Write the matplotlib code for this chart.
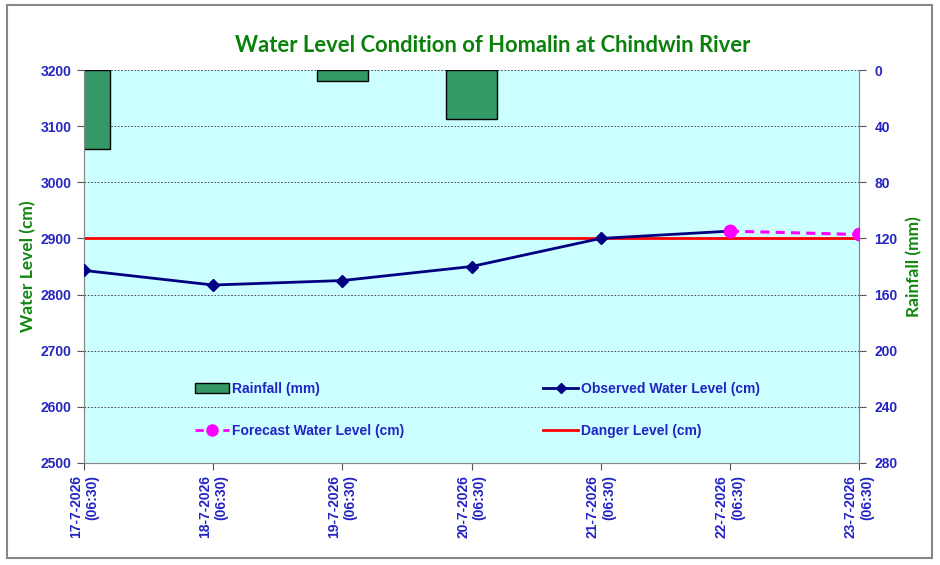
"""
Homalin (Chindwin River) water level chart
"""
import matplotlib
matplotlib.use('Agg')
import matplotlib.pyplot as plt
import numpy as np
from matplotlib.patches import Rectangle, Patch
from matplotlib.lines import Line2D

# data
dates = ['17-7-2026\n(06:30)', '18-7-2026\n(06:30)', '19-7-2026\n(06:30)',
         '20-7-2026\n(06:30)', '21-7-2026\n(06:30)', '22-7-2026\n(06:30)',
         '23-7-2026\n(06:30)']
rainfall = [56, 0, 8, 35, 0, 0, 0]                       # mm
observed = [2843, 2817, 2825, 2850, 2900, 2913, None]     # cm
forecast = [None, None, None, None, None, 2913, 2907]     # cm
danger_level = 2900                                       # cm

blue = '#2424C4'
green = '#118811'
tick_font = dict(family='Liberation Sans', weight='bold', size=10)

fig = plt.figure(figsize=(9.4, 5.65), dpi=100)
fig.patch.set_facecolor('white')
# chart area border
fig.patches.append(Rectangle((7 / 940, 1 - 558 / 565), 925 / 940, 553 / 565,
                             transform=fig.transFigure, fill=False,
                             edgecolor='#888888', linewidth=1.5))

rect = [84 / 940, 1 - 463 / 565, 775 / 940, 393 / 565]
ax2 = fig.add_axes(rect)           # rainfall (behind)
ax = ax2.twinx()                   # water level (on top)
ax.set_zorder(ax2.get_zorder() + 1)
ax.patch.set_visible(False)
ax2.set_facecolor('#CCFFFF')

x = np.arange(len(dates))

# rainfall bars hanging from the top
rain = np.array(rainfall, dtype=float)
mask = rain > 0
ax2.bar(x[mask], rain[mask], width=0.4, color='#339966', edgecolor='black',
        linewidth=1, zorder=3)
ax2.set_ylim(280, 0)
ax2.set_yticks(np.arange(0, 281, 40))
ax2.grid(axis='y', color='#333333', linestyle=(0, (2, 2)), linewidth=0.6, zorder=1)
ax2.set_axisbelow(True)

# water level lines
obs = np.array([np.nan if v is None else v for v in observed], dtype=float)
fc = np.array([np.nan if v is None else v for v in forecast], dtype=float)
ax.axhline(danger_level, color='#FF0000', linewidth=2, zorder=2)
ax.plot(x, obs, color='#000080', linewidth=2, marker='D', markersize=6, zorder=3)
ax.plot(x, fc, color='#FF00FF', linewidth=2.2, linestyle=(0, (3, 2)),
        marker='o', markersize=9, zorder=4)
ax.set_ylim(2500, 3200)
ax.set_yticks(np.arange(2500, 3201, 100))
ax.set_xlim(0, 6)

# water level ticks on the left, rainfall on the right
ax.yaxis.tick_left()
ax.yaxis.set_label_position('left')
ax2.yaxis.tick_right()
ax2.yaxis.set_label_position('right')

for a in (ax, ax2):
    for s in a.spines.values():
        s.set_color('#888888')
    a.spines['top'].set_visible(False)
    a.tick_params(axis='both', direction='out', length=5, color='#555555',
                  labelcolor=blue)
    for lab in a.get_yticklabels():
        lab.set_fontproperties(tick_font)

ax2.set_xticks(x)
ax2.set_xticklabels(dates, rotation=90, ha='center', va='top',
                    multialignment='right', color=blue, **tick_font)
ax.tick_params(axis='x', bottom=False, labelbottom=False)
ax.tick_params(axis='y', pad=4)
ax2.tick_params(axis='y', pad=6)

ax.set_ylabel('Water Level (cm)', color=green, fontsize=12.5, family='Lato',
              fontweight='bold', labelpad=3)
ax2.set_ylabel('Rainfall (mm)', color=green, fontsize=12.5, family='Lato',
               fontweight='bold', labelpad=6)
fig.text(493 / 940, 1 - 46 / 565, 'Water Level Condition of Homalin at Chindwin River',
         ha='center', va='center', color='#0A800A', fontsize=15.8, family='Lato',
         fontweight='bold')

# legend, two columns inside the plot
handles = [
    Patch(facecolor='#339966', edgecolor='black', label='Rainfall (mm)'),
    Line2D([], [], color='#FF00FF', linestyle=(0, (3, 2)), marker='o',
           markersize=8, linewidth=2, label='Forecast Water Level (cm)'),
    Line2D([], [], color='#000080', marker='D', markersize=5, linewidth=2,
           label='Observed Water Level (cm)'),
    Line2D([], [], color='#FF0000', linewidth=2, label='Danger Level (cm)'),
]
leg = ax.legend(handles=handles, ncol=2, frameon=False,
                loc='upper left', bbox_to_anchor=((182 - 84) / 775, (463 - 369) / 393),
                prop=tick_font, handlelength=2.5, handleheight=0.7,
                handletextpad=0.2, labelspacing=2.05, columnspacing=10.0)
for t in leg.get_texts():
    t.set_color(blue)

plt.savefig('out.png', dpi=100)
plt.close()
